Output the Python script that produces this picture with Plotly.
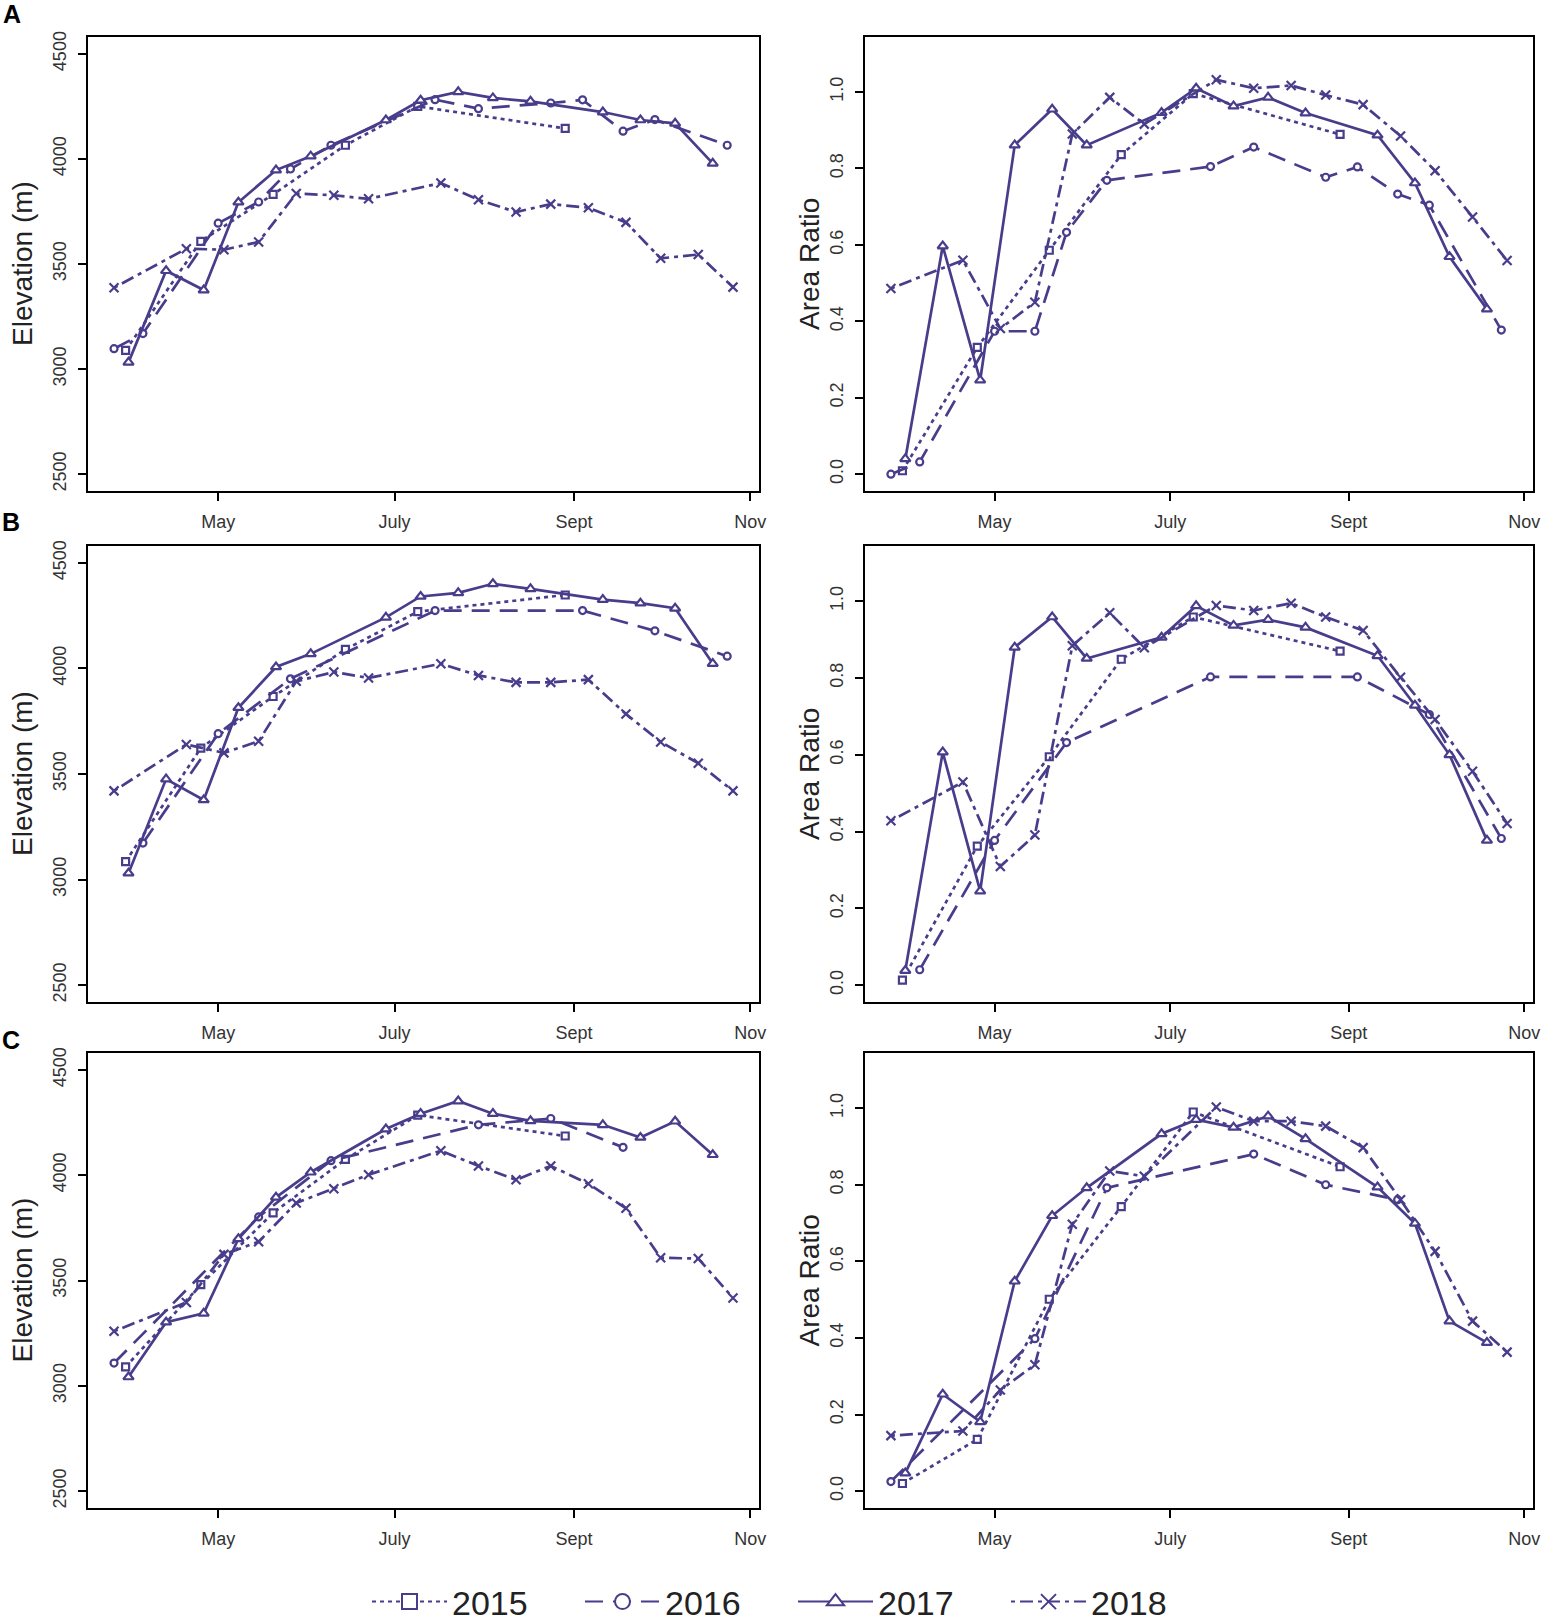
import plotly.graph_objects as go

W, H = 1541, 1621

# scene dates (day of year) for each season
doy_2015 = [89, 115, 140, 165, 190, 241]
doy_2016 = [85, 95, 121, 135, 146, 160, 196, 211, 236, 247, 261, 272, 297]
doy_2016_b = [95, 121, 146, 196, 247, 272, 297]
doy_2016_c = [85, 135, 160, 211, 236, 261]
doy_2017 = [90, 103, 116, 128, 141, 153, 179, 191, 204, 216, 229, 254, 267, 279, 292]
doy_2018 = [85, 110, 123, 135, 148, 161, 173, 198, 211, 224, 236, 249, 262, 274, 287, 299]

month_ticks = [121, 182, 244, 305]
month_labels = ["May", "July", "Sept", "Nov"]
elev_ticks = [2500, 3000, 3500, 4000, 4500]
ratio_ticks = [0.0, 0.2, 0.4, 0.6, 0.8, 1.0]

# panel A
elev_a_2015 = [3089, 3608, 3831, 4065, 4250, 4145]
elev_a_2016 = [3097, 3169, 3694, 3795, 3952, 4065, 4282, 4239, 4266, 4281, 4132, 4187, 4065]
elev_a_2017 = [3032, 3468, 3376, 3794, 3947, 4013, 4185, 4279, 4319, 4290, 4274, 4223, 4185, 4169, 3979]
elev_a_2018 = [3387, 3573, 3568, 3605, 3835, 3827, 3810, 3885, 3806, 3747, 3785, 3768, 3698, 3527, 3545, 3390]
ratio_a_2015 = [0.009, 0.332, 0.586, 0.836, 0.996, 0.889]
ratio_a_2016 = [0.000, 0.032, 0.374, 0.374, 0.633, 0.769, 0.805, 0.856, 0.777, 0.804, 0.733, 0.704, 0.377]
ratio_a_2017 = [0.040, 0.597, 0.246, 0.861, 0.955, 0.861, 0.946, 1.010, 0.963, 0.986, 0.945, 0.887, 0.762, 0.569, 0.432]
ratio_a_2018 = [0.486, 0.560, 0.381, 0.450, 0.890, 0.986, 0.916, 1.032, 1.010, 1.017, 0.992, 0.967, 0.885, 0.794, 0.673, 0.559]

# panel B
elev_b_2015 = [3085, 3623, 3867, 4090, 4269, 4348]
elev_b_2016 = [3173, 3691, 3951, 4274, 4274, 4178, 4058]
elev_b_2017 = [3030, 3476, 3377, 3814, 4007, 4069, 4242, 4341, 4358, 4401, 4377, 4326, 4309, 4285, 4023]
elev_b_2018 = [3420, 3640, 3600, 3655, 3939, 3983, 3955, 4022, 3967, 3934, 3934, 3947, 3784, 3652, 3551, 3420]
ratio_b_2015 = [0.013, 0.362, 0.595, 0.849, 0.959, 0.870]
ratio_b_2016 = [0.040, 0.377, 0.632, 0.803, 0.803, 0.705, 0.382]
ratio_b_2017 = [0.038, 0.607, 0.245, 0.880, 0.959, 0.851, 0.906, 0.988, 0.937, 0.952, 0.932, 0.858, 0.729, 0.600, 0.377]
ratio_b_2018 = [0.428, 0.529, 0.309, 0.391, 0.884, 0.970, 0.879, 0.989, 0.976, 0.995, 0.959, 0.924, 0.802, 0.692, 0.557, 0.421]

# panel C
elev_c_2015 = [3090, 3480, 3821, 4075, 4285, 4186]
elev_c_2016 = [3108, 3802, 4069, 4239, 4269, 4132]
elev_c_2017 = [3042, 3302, 3344, 3698, 3895, 4014, 4219, 4292, 4352, 4292, 4258, 4239, 4179, 4256, 4097]
elev_c_2018 = [3259, 3396, 3624, 3684, 3868, 3936, 4002, 4116, 4044, 3978, 4044, 3959, 3843, 3608, 3604, 3417]
ratio_c_2015 = [0.020, 0.135, 0.501, 0.743, 0.990, 0.847]
ratio_c_2016 = [0.025, 0.398, 0.792, 0.880, 0.800, 0.761]
ratio_c_2017 = [0.047, 0.253, 0.181, 0.548, 0.719, 0.792, 0.933, 0.970, 0.950, 0.979, 0.920, 0.794, 0.699, 0.444, 0.388]
ratio_c_2018 = [0.145, 0.157, 0.264, 0.330, 0.697, 0.836, 0.822, 1.003, 0.966, 0.966, 0.953, 0.897, 0.761, 0.626, 0.444, 0.363]

years = ["2015", "2016", "2017", "2018"]

panels = [
    ("elev", {"2015": (doy_2015, elev_a_2015), "2016": (doy_2016, elev_a_2016),
              "2017": (doy_2017, elev_a_2017), "2018": (doy_2018, elev_a_2018)}),
    ("ratio", {"2015": (doy_2015, ratio_a_2015), "2016": (doy_2016, ratio_a_2016),
               "2017": (doy_2017, ratio_a_2017), "2018": (doy_2018, ratio_a_2018)}),
    ("elev", {"2015": (doy_2015, elev_b_2015), "2016": (doy_2016_b, elev_b_2016),
              "2017": (doy_2017, elev_b_2017), "2018": (doy_2018, elev_b_2018)}),
    ("ratio", {"2015": (doy_2015, ratio_b_2015), "2016": (doy_2016_b, ratio_b_2016),
               "2017": (doy_2017, ratio_b_2017), "2018": (doy_2018, ratio_b_2018)}),
    ("elev", {"2015": (doy_2015, elev_c_2015), "2016": (doy_2016_c, elev_c_2016),
              "2017": (doy_2017, elev_c_2017), "2018": (doy_2018, elev_c_2018)}),
    ("ratio", {"2015": (doy_2015, ratio_c_2015), "2016": (doy_2016_c, ratio_c_2016),
               "2017": (doy_2017, ratio_c_2017), "2018": (doy_2018, ratio_c_2018)}),
]

purple = "#483D8B"
font_family = "Liberation Sans, Arial, Helvetica, sans-serif"
dashes = {"2015": "4px,4px", "2016": "18px,10px", "2017": "solid", "2018": "4px,5px,13px,5px"}
symbols = {"2015": "square", "2016": "circle", "2017": "triangle-up", "2018": "x-thin"}
sizes = {"2015": 7, "2016": 7, "2017": 9, "2018": 9}

# pixel boxes of the panels
col_px = [(88, 759), (865, 1533)]
row_px = [(37, 491), (546, 1002), (1053, 1508)]

fig = go.Figure()

for i, (kind, series) in enumerate(panels):
    ax = "" if i == 0 else str(i + 1)
    for yr in years:
        doy, vals = series[yr]
        fig.add_trace(go.Scatter(
            x=doy, y=vals, xaxis="x" + ax, yaxis="y" + ax,
            mode="lines+markers", name=yr, showlegend=False,
            line=dict(color=purple, width=2.7, dash=dashes[yr]),
            marker=dict(symbol=symbols[yr], size=sizes[yr], color="white",
                        line=dict(color=purple, width=2.2)),
        ))

# legend entries only (no data)
for yr in years:
    fig.add_trace(go.Scatter(
        x=[None], y=[None], mode="lines+markers", name=yr,
        line=dict(color=purple, width=2, dash=dashes[yr]),
        marker=dict(symbol=symbols[yr], size=15, color="white",
                    line=dict(color=purple, width=2)),
    ))

axis_common = dict(
    showline=True, mirror=True, linecolor="black", linewidth=1.5,
    ticks="outside", ticklen=8, tickwidth=2, tickcolor="black",
    showgrid=False, zeroline=False,
    tickfont=dict(size=18, color="#333", family=font_family),
)

layout = {}
annotations = []
for i, (kind, series) in enumerate(panels):
    row, col = divmod(i, 2)
    l, r = col_px[col]
    t, b = row_px[row]
    ax = "" if i == 0 else str(i + 1)
    layout["xaxis" + ax] = dict(
        domain=[l / W, r / W], anchor="y" + ax, range=[76, 308],
        tickmode="array", tickvals=month_ticks, ticktext=month_labels,
        ticklabelstandoff=6, **axis_common)
    if kind == "elev":
        layout["yaxis" + ax] = dict(
            domain=[1 - b / H, 1 - t / H], anchor="x" + ax, range=[2420, 4580],
            tickmode="array", tickvals=elev_ticks, tickangle=-90,
            ticklabelstandoff=5, **axis_common)
        title, tx = "Elevation (m)", 22
    else:
        layout["yaxis" + ax] = dict(
            domain=[1 - b / H, 1 - t / H], anchor="x" + ax, range=[-0.044, 1.144],
            tickmode="array", tickvals=ratio_ticks, tickformat=".1f", tickangle=-90,
            ticklabelstandoff=5, **axis_common)
        title, tx = "Area Ratio", 809
    annotations.append(dict(
        text=title, x=tx / W, y=1 - (t + b) / 2 / H, xref="paper", yref="paper",
        xanchor="center", yanchor="middle", textangle=-90, showarrow=False,
        font=dict(size=28, color="#222", family=font_family)))

for letter, px, py in [("A", 12, 14), ("B", 11, 522), ("C", 11, 1040)]:
    annotations.append(dict(
        text="<b>" + letter + "</b>", x=px / W, y=1 - py / H, xref="paper", yref="paper",
        xanchor="center", yanchor="middle", showarrow=False,
        font=dict(size=25, color="black", family=font_family)))

fig.update_layout(
    width=W, height=H,
    margin=dict(l=0, r=0, t=0, b=0, autoexpand=False),
    paper_bgcolor="white", plot_bgcolor="white",
    font=dict(family=font_family, color="#222"),
    annotations=annotations,
    legend=dict(orientation="h", x=367 / W, xanchor="left", y=1 - 1602 / H, yanchor="middle",
                font=dict(size=34, color="#222", family=font_family),
                itemwidth=75, entrywidth=123, entrywidthmode="pixels",
                bgcolor="rgba(0,0,0,0)", borderwidth=0),
    **layout,
)

fig.write_html("out.html", config={"displayModeBar": False},
               post_script="document.body.style.margin='0';document.body.style.overflow='hidden';")
